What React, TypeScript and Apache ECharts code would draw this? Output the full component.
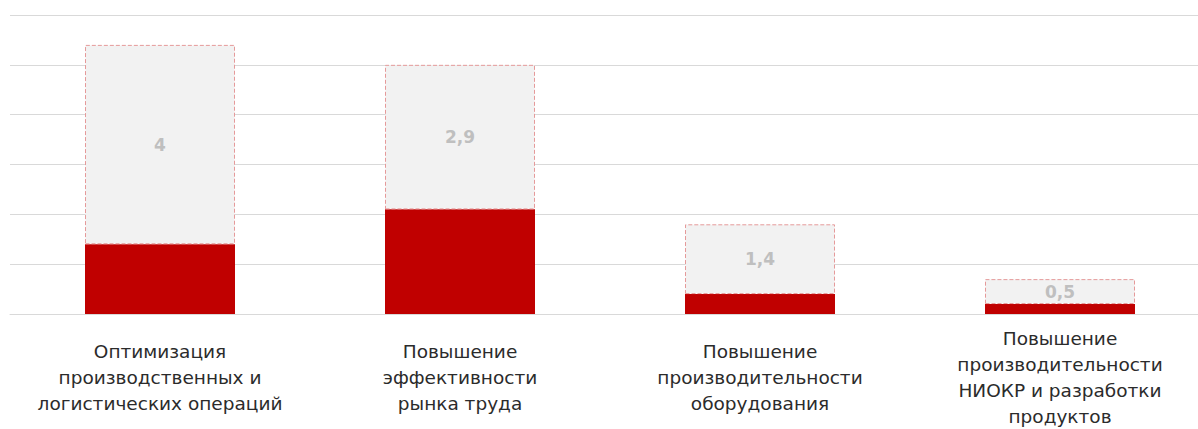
import React, { useEffect, useRef } from "react";
import * as echarts from "echarts";

// Categories (axis labels, multi-line)
const categories: string[] = [
  "Оптимизация\nпроизводственных и\nлогистических операций",
  "Повышение\nэффективности\nрынка труда",
  "Повышение\nпроизводительности\nоборудования",
  "Повышение\nпроизводительности\nНИОКР и разработки\nпродуктов",
];

// Lower (red) segment values
const baseValues: number[] = [1.4, 2.1, 0.4, 0.2];
// Upper (grey, dashed outline) segment values, labelled
const potentialValues: number[] = [4, 2.9, 1.4, 0.5];

const fmt = (v: number) => String(v).replace(".", ",");

export default function App() {
  const ref = useRef<HTMLDivElement>(null);

  useEffect(() => {
    if (!ref.current) return;
    const chart = echarts.init(ref.current, null, { renderer: "svg" });
    chart.setOption({
      animation: false,
      backgroundColor: "#ffffff",
      grid: { left: 10, top: 15, right: 2, bottom: 113, containLabel: false },
      xAxis: {
        type: "category",
        data: categories,
        axisLine: { show: true, lineStyle: { color: "#D9D9D9", width: 1 } },
        axisTick: { show: false },
        axisLabel: {
          interval: 0,
          margin: 63,
          verticalAlign: "middle",
          fontFamily: "DejaVu Sans",
          fontSize: 18.5,
          lineHeight: 26,
          color: "#2b2b2b",
        },
      },
      yAxis: {
        type: "value",
        min: 0,
        max: 6,
        interval: 1,
        axisLabel: { show: false },
        axisLine: { show: false },
        axisTick: { show: false },
        splitLine: { lineStyle: { color: "#D9D9D9", width: 1 } },
      },
      series: [
        {
          type: "bar",
          stack: "total",
          data: baseValues,
          barWidth: "50%",
          itemStyle: { color: "#C00000" },
          silent: true,
        },
        {
          type: "bar",
          stack: "total",
          data: potentialValues,
          barWidth: "50%",
          itemStyle: {
            color: "#F2F2F2",
            borderColor: "#E59A9A",
            borderWidth: 1,
            borderType: [4, 2],
          },
          label: {
            show: true,
            position: "inside",
            formatter: (p: any) => fmt(p.value),
            fontFamily: "DejaVu Sans",
            fontWeight: "bold",
            fontSize: 17,
            color: "#BFBFBF",
          },
          silent: true,
        },
      ],
    });
    return () => chart.dispose();
  }, []);

  return (
    <div
      style={{
        position: "absolute",
        left: 0,
        top: 0,
        width: 1198,
        height: 429,
        overflow: "hidden",
        background: "#ffffff",
      }}
    >
      <div ref={ref} style={{ width: 1212, height: 429 }} />
    </div>
  );
}
